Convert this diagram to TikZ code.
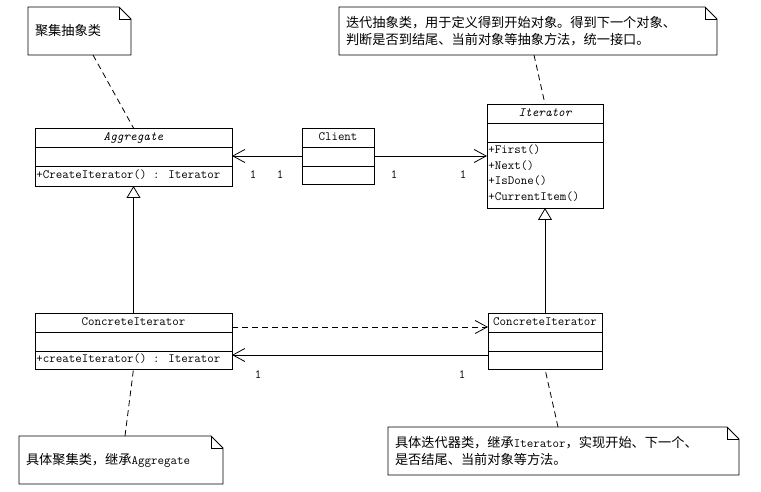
\documentclass[tikz,border=0pt]{standalone}
\usepackage{fontspec}
\newfontfamily\cjk{Noto Sans CJK SC}
\usetikzlibrary{arrows.meta}
\newcommand\zh[1]{{\cjk\fontsize{13.2pt}{17.5pt}\selectfont #1}}
\newcommand\notebox[1]{%
  \draw (#1.north west) -- ([xshift=-12pt]#1.north east) -- ([yshift=-12pt]#1.north east)
        -- (#1.south east) -- (#1.south west) -- cycle;
  \draw ([xshift=-12pt]#1.north east) |- ([yshift=-12pt]#1.north east);}
\newcommand\sepline[2]{\draw ([yshift=-#2]#1.north west) -- ([yshift=-#2]#1.north east);}
\tikzset{
  box/.style={draw, anchor=north west, inner sep=0pt, outer sep=0pt},
  note/.style={anchor=north west, inner xsep=7pt, inner ysep=0pt, outer sep=0pt, align=left,
    minimum height=48pt, font=\ttfamily\fontsize{12.6pt}{17.5pt}\selectfont},
  txt/.style={inner sep=0pt, text height=8pt, text depth=2.5pt},
  mult/.style={inner sep=0pt},
  link/.style={dashed, dash pattern=on 6pt off 4pt},
  assoc/.style={-{Straight Barb[length=12pt,width=13pt]}},
  inherit/.style={-{Triangle[open,length=12pt,width=14pt]}}
}
\begin{document}
\begin{tikzpicture}[x=1pt,y=-1pt, line width=0.8pt, font=\ttfamily\fontsize{12.6pt}{16pt}\selectfont]
\useasboundingbox (0,0) rectangle (761,492);

% Aggregate
\node[box, minimum width=197pt, minimum height=58pt] (agg) at (35,128) {};
\sepline{agg}{19pt}\sepline{agg}{38pt}
\node[txt] (aggT) at ([yshift=-9.5pt]agg.north) {\itshape Aggregate};
\node[txt, anchor=west] (aggO) at ([yshift=-48pt,xshift=1pt]agg.north west) {+CreateIterator() : Iterator};

% Client
\node[box, minimum width=72pt, minimum height=56pt] (client) at (302,128) {};
\sepline{client}{19pt}\sepline{client}{38pt}
\node[txt] (clientT) at ([yshift=-9.5pt]client.north) {Client};

% Iterator
\node[box, minimum width=116pt, minimum height=104pt] (iter) at (487,104) {};
\sepline{iter}{19pt}\sepline{iter}{38pt}
\node[txt] (iterT) at ([yshift=-9.5pt]iter.north) {\itshape Iterator};
\node[txt, anchor=west] (iterO1) at ([yshift=-47pt,xshift=1pt]iter.north west) {+First()};
\node[txt, anchor=west] (iterO2) at ([yshift=-62.5pt,xshift=1pt]iter.north west) {+Next()};
\node[txt, anchor=west] (iterO3) at ([yshift=-78pt,xshift=1pt]iter.north west) {+IsDone()};
\node[txt, anchor=west] (iterO4) at ([yshift=-93.5pt,xshift=1pt]iter.north west) {+CurrentItem()};

% ConcreteIterator (left)
\node[box, minimum width=197pt, minimum height=56pt] (ciL) at (35,313) {};
\sepline{ciL}{19pt}\sepline{ciL}{38pt}
\node[txt] (ciLT) at ([yshift=-9.5pt]ciL.north) {ConcreteIterator};
\node[txt, anchor=west] (ciLO) at ([yshift=-47pt,xshift=1pt]ciL.north west) {+createIterator() : Iterator};

% ConcreteIterator (right)
\node[box, minimum width=114pt, minimum height=56pt] (ciR) at (488,313) {};
\sepline{ciR}{19pt}\sepline{ciR}{38pt}
\node[txt] (ciRT) at ([yshift=-9.5pt]ciR.north) {ConcreteIterator};

% Notes
\node[note, text width=89pt] (n1) at (28,7) {\zh{聚集抽象类}};
\notebox{n1}
\node[note, text width=364pt] (n2) at (339,7) {\zh{迭代抽象类，用于定义得到开始对象。得到下一个对象、}\\\zh{判断是否到结尾、当前对象等抽象方法，统一接口。}};
\notebox{n2}
\node[note, text width=190pt] (n3) at (19,436) {\zh{具体聚集类，继承}Aggregate};
\notebox{n3}
\node[note, text width=337pt] (n4) at (388,427) {\zh{具体迭代器类，继承}Iterator\zh{，实现开始、下一个、}\\\zh{是否结尾、当前对象等方法。}};
\notebox{n4}

% Note links
\draw[link] ([xshift=13.5pt]n1.south) -- (agg.north);
\draw[link] ([xshift=6pt]n2.south) -- (iter.north);
\draw[link] ([xshift=4pt]n3.north) -- (ciL.south);
\draw[link] ([xshift=-5.5pt]n4.north) -- (ciR.south);

% Associations
\draw[assoc] (client.west) -- (client.west -| agg.east);
\draw[assoc] (client.east) -- (client.east -| iter.west);
\draw[assoc, link] ([yshift=-14pt]ciL.north east) -- ([yshift=-14pt]ciR.north west);
\draw[assoc] ([yshift=-42pt]ciR.north west) -- ([yshift=-42pt]ciL.north east);

% Inheritance
\draw[inherit] (ciL.north) -- (agg.south);
\draw[inherit] (ciR.north) -- (iter.south);

% Multiplicities
\node[mult] (m1) at (253,175) {1};
\node[mult] (m2) at (280,175) {1};
\node[mult] (m3) at (394,175) {1};
\node[mult] (m4) at (463,175) {1};
\node[mult] (m5) at (258,375) {1};
\node[mult] (m6) at (462,375) {1};
\end{tikzpicture}
\end{document}
